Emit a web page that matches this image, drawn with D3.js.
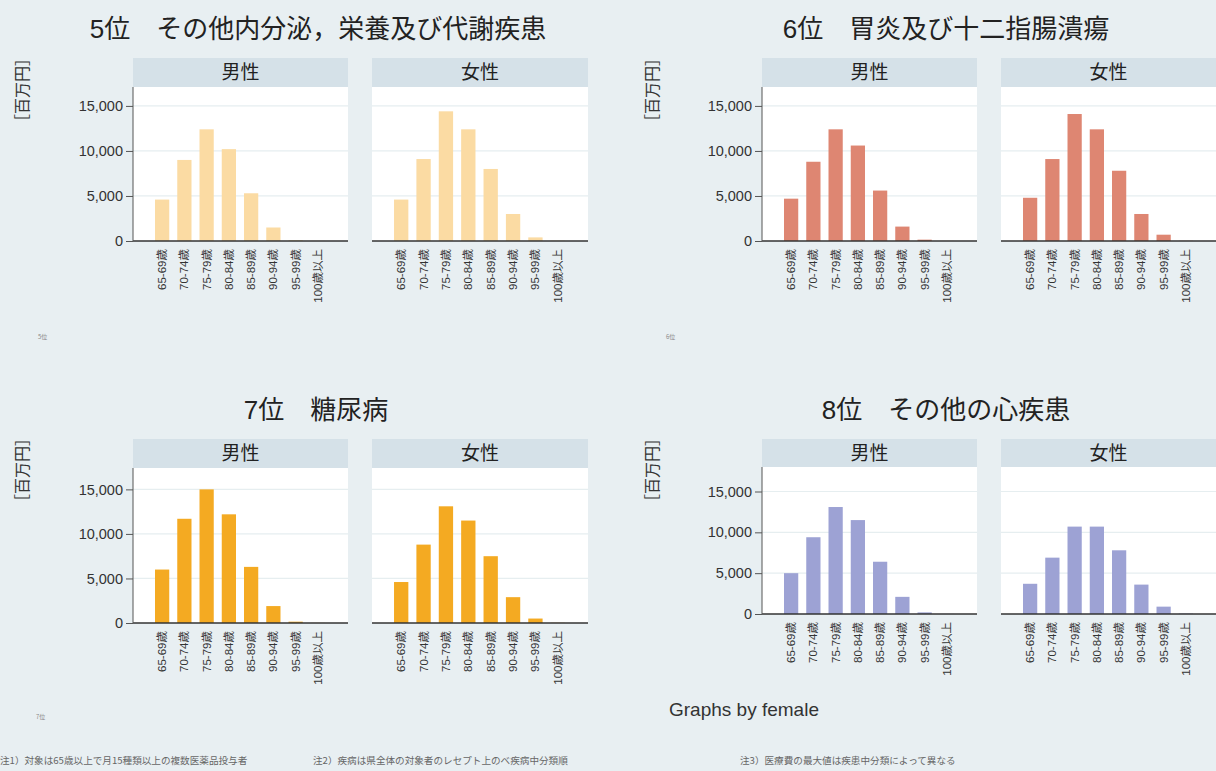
<!DOCTYPE html>
<html>
<head>
<meta charset="utf-8">
<script src="https://cdn.jsdelivr.net/npm/d3@7"></script>
<style>
  html, body { margin: 0; padding: 0; background: #e8eff2; }
  svg { display: block; }
</style>
</head>
<body>
<svg id="chart" width="1216" height="771"></svg>
<script>
// ---------------- data ----------------
const categories = ["65-69歳", "70-74歳", "75-79歳", "80-84歳", "85-89歳", "90-94歳", "95-99歳", "100歳以上"];
const sexLabels = ["男性", "女性"];
const yTicks = [0, 5000, 10000, 15000];

const titles = ["5位　その他内分泌，栄養及び代謝疾患", "6位　胃炎及び十二指腸潰瘍", "7位　糖尿病", "8位　その他の心疾患"];

const rank5Male   = [4600, 9000, 12400, 10200, 5300, 1500, 80, 10];
const rank5Female = [4600, 9100, 14400, 12400, 8000, 3000, 400, 30];
const rank6Male   = [4700, 8800, 12400, 10600, 5600, 1600, 150, 10];
const rank6Female = [4800, 9100, 14100, 12400, 7800, 3000, 700, 20];
const rank7Male   = [6000, 11700, 15000, 12200, 6300, 1900, 150, 10];
const rank7Female = [4600, 8800, 13100, 11500, 7500, 2900, 500, 20];
const rank8Male   = [5000, 9400, 13100, 11500, 6400, 2100, 200, 10];
const rank8Female = [3700, 6900, 10700, 10700, 7800, 3600, 900, 50];

const notes = [
  "注1）対象は65歳以上で月15種類以上の複数医薬品投与者",
  "注2）疾病は県全体の対象者のレセプト上のべ疾病中分類順",
  "注3）医療費の最大値は疾患中分類によって異なる"
];
const yAxisLabel = "［百万円］";
const byNote = "Graphs by female";

// ---------------- layout / style ----------------
const colors = ["#fbdba3", "#de8672", "#f4aa22", "#9da2d4"];
const FONT = "'Liberation Sans', Arial, 'Noto Sans CJK JP', sans-serif";
const CJK = "'Noto Sans CJK JP', sans-serif";

const panels = [
  { title: titles[0], male: rank5Male, female: rank5Female, color: colors[0],
    axisX: 133, subX: [[133, 348], [372, 588]], stripTop: 58, plotTop: 87, plotBottom: 241, yMax: 17100,
    titleX: 318, titleY: 38, ylabX: 22, ylabY: 90, tag: "5位", tagX: 38, tagY: 339 },
  { title: titles[1], male: rank6Male, female: rank6Female, color: colors[1],
    axisX: 762, subX: [[762, 977], [1001, 1216]], stripTop: 58, plotTop: 87, plotBottom: 241, yMax: 17100,
    titleX: 946, titleY: 38, ylabX: 652, ylabY: 90, tag: "6位", tagX: 666, tagY: 339 },
  { title: titles[2], male: rank7Male, female: rank7Female, color: colors[2],
    axisX: 133, subX: [[133, 348], [372, 588]], stripTop: 439, plotTop: 468, plotBottom: 623, yMax: 17400,
    titleX: 316, titleY: 419, ylabX: 22, ylabY: 470, tag: "7位", tagX: 36, tagY: 719 },
  { title: titles[3], male: rank8Male, female: rank8Female, color: colors[3],
    axisX: 762, subX: [[762, 977], [1001, 1216]], stripTop: 439, plotTop: 467, plotBottom: 614, yMax: 18000,
    titleX: 946, titleY: 419, ylabX: 652, ylabY: 470, tag: null }
];

const svg = d3.select("#chart");
svg.append("rect").attr("width", 1216).attr("height", 771).attr("fill", "#e8eff2");

panels.forEach(p => {
  const g = svg.append("g");

  // title
  g.append("text")
    .attr("x", p.titleX).attr("y", p.titleY)
    .attr("text-anchor", "middle")
    .attr("font-family", FONT).attr("font-size", 26)
    .attr("fill", "#222")
    .text(p.title);

  // y-axis label
  g.append("text")
    .attr("transform", `translate(${p.ylabX},${p.ylabY}) rotate(-90)`)
    .attr("text-anchor", "middle").attr("dy", "0.35em")
    .attr("font-family", CJK).attr("font-size", 16)
    .attr("fill", "#333")
    .text(yAxisLabel);

  if (p.tag) {
    g.append("text")
      .attr("x", p.tagX).attr("y", p.tagY)
      .attr("font-family", CJK).attr("font-size", 6)
      .attr("fill", "#888")
      .text(p.tag);
  }

  const y = d3.scaleLinear().domain([0, p.yMax]).range([p.plotBottom, p.plotTop]);

  [p.male, p.female].forEach((vals, si) => {
    const [x0, x1] = p.subX[si];
    const sg = g.append("g");

    // strip
    sg.append("rect")
      .attr("x", x0).attr("y", p.stripTop)
      .attr("width", x1 - x0).attr("height", p.plotTop - p.stripTop)
      .attr("fill", "#d5e1e8");
    sg.append("text")
      .attr("x", (x0 + x1) / 2).attr("y", (p.stripTop + p.plotTop) / 2)
      .attr("dy", "0.36em").attr("text-anchor", "middle")
      .attr("font-family", CJK).attr("font-size", 19)
      .attr("fill", "#222")
      .text(sexLabels[si]);

    // plot area
    sg.append("rect")
      .attr("x", x0).attr("y", p.plotTop)
      .attr("width", x1 - x0).attr("height", p.plotBottom - p.plotTop)
      .attr("fill", "#ffffff");

    // gridlines
    sg.selectAll("line.grid").data(yTicks.filter(t => t > 0)).join("line")
      .attr("class", "grid")
      .attr("x1", x0).attr("x2", x1)
      .attr("y1", d => y(d)).attr("y2", d => y(d))
      .attr("stroke", "#e6eef0").attr("stroke-width", 1.2);

    const x = d3.scaleBand().domain(categories)
      .range([x0 + 18, x1 - 19]).paddingInner(0.36).paddingOuter(0.18);

    sg.selectAll("rect.bar").data(vals).join("rect")
      .attr("class", "bar")
      .attr("x", (d, i) => x(categories[i]))
      .attr("width", x.bandwidth())
      .attr("y", d => y(d))
      .attr("height", d => y(0) - y(d))
      .attr("fill", p.color);

    // x axis
    const xAxis = d3.axisBottom(x).tickSize(0).tickPadding(0);
    const ax = sg.append("g").attr("transform", `translate(0,${p.plotBottom})`).call(xAxis);
    ax.select(".domain").remove();
    ax.append("line").attr("x1", x0).attr("x2", x1).attr("stroke", "#333").attr("stroke-width", 1.3);
    ax.selectAll(".tick text")
      .attr("transform", "rotate(-90)")
      .attr("text-anchor", "end")
      .attr("x", -8).attr("y", 0).attr("dy", "0.35em")
      .attr("font-family", FONT).attr("font-size", 11.5)
      .attr("fill", "#333");

    if (si === 0) {
      const yAxis = d3.axisLeft(y).tickValues(yTicks).tickSize(7).tickPadding(3)
        .tickFormat(d3.format(","));
      const ay = sg.append("g").attr("transform", `translate(${p.axisX},0)`).call(yAxis);
      ay.select(".domain").attr("stroke", "#555").attr("d", `M0,${p.plotTop}V${p.plotBottom}`);
      ay.selectAll(".tick line").attr("stroke", "#555");
      ay.selectAll(".tick text")
        .attr("font-family", FONT).attr("font-size", 14.5)
        .attr("fill", "#333");
    }
  });
});

// by-note
svg.append("text")
  .attr("x", 669).attr("y", 716)
  .attr("font-family", FONT).attr("font-size", 19)
  .attr("fill", "#333")
  .text(byNote);

// footer notes
const noteX = [0, 313, 740];
svg.selectAll("text.note").data(notes).join("text")
  .attr("class", "note")
  .attr("x", (d, i) => noteX[i]).attr("y", 764)
  .attr("font-family", CJK).attr("font-size", 9.6)
  .attr("fill", "#666")
  .text(d => d);
</script>
</body>
</html>
